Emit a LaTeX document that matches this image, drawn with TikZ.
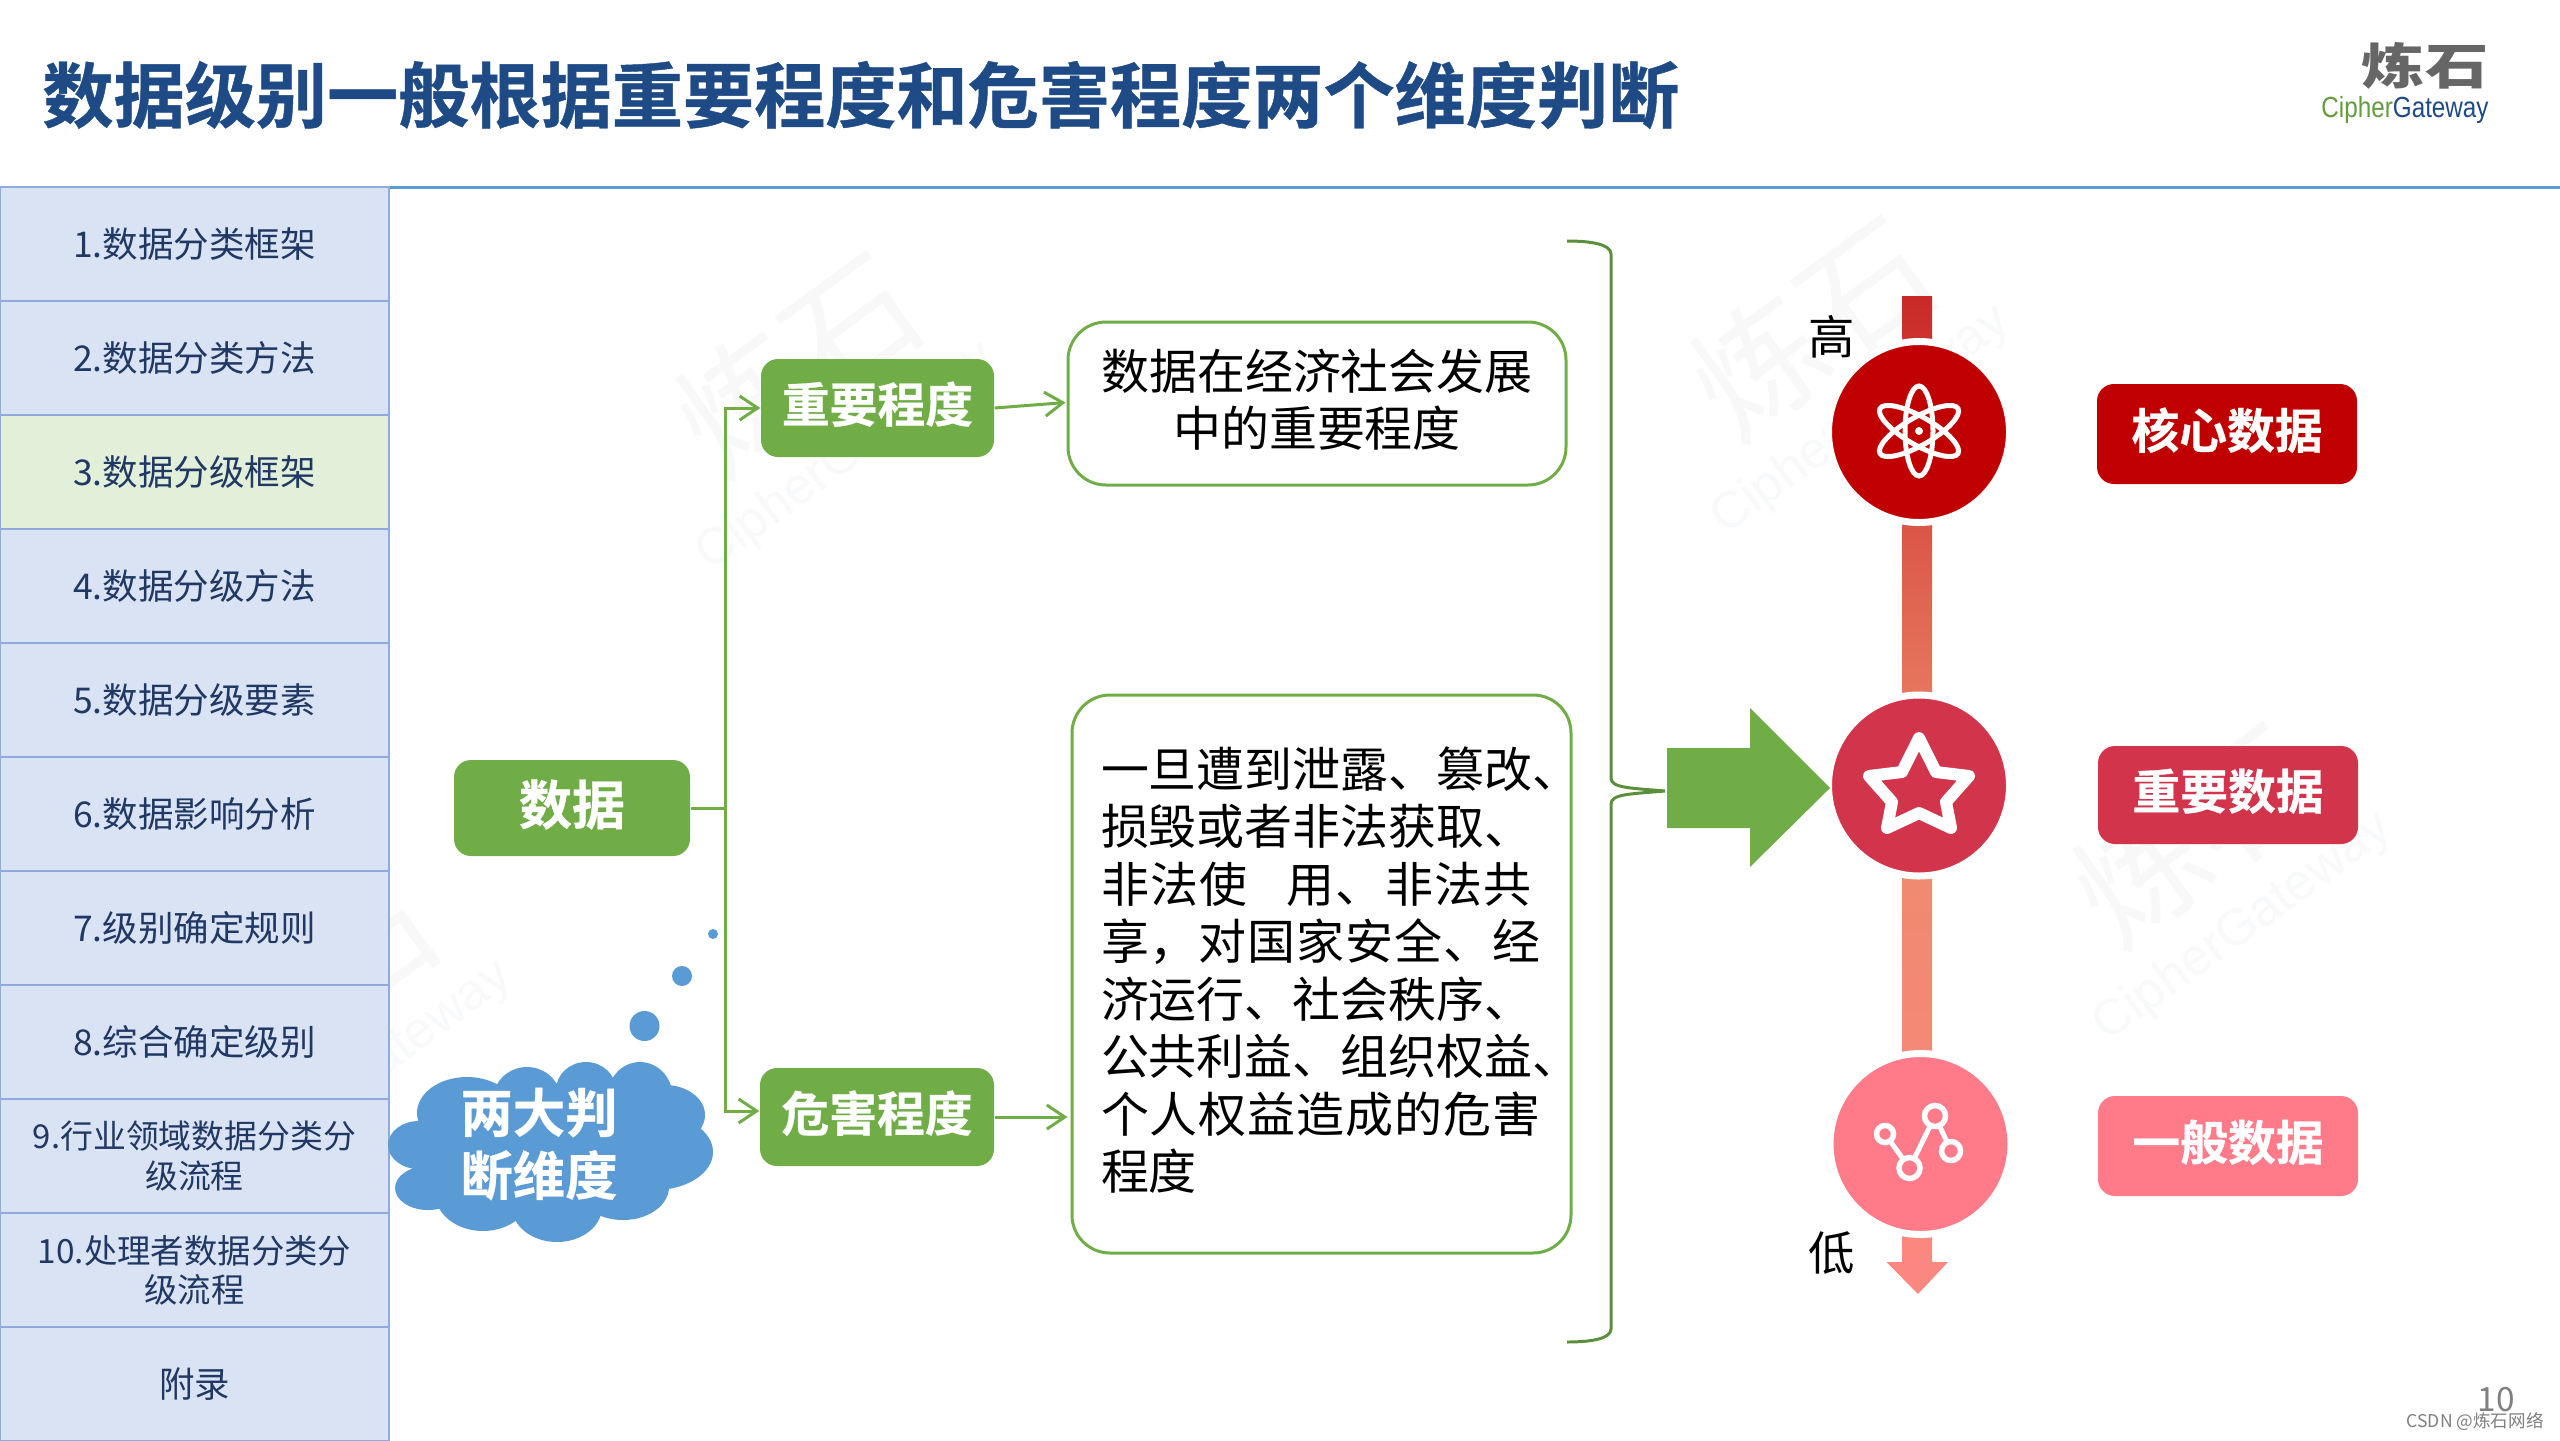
\documentclass[tikz,border=0pt]{standalone}
\usepackage{fontspec}
\usepackage{graphicx}
\usepackage{tikz}
\setmainfont{Noto Sans CJK SC}
\newfontfamily\logofont{Liberation Sans}
\newfontfamily\heavyfont[FakeBold=0.6]{Noto Sans CJK SC Bold}
\usetikzlibrary{calc,arrows.meta}

\definecolor{titleblue}{HTML}{1E4A85}
\definecolor{lineblue}{HTML}{5B9BD5}
\definecolor{menufill}{HTML}{DAE3F3}
\definecolor{menuhigh}{HTML}{E2F0D9}
\definecolor{menuline}{HTML}{8FAADC}
\definecolor{menutext}{HTML}{203864}
\definecolor{leafgreen}{HTML}{70AD47}
\definecolor{darkgreen}{HTML}{5B8F3B}
\definecolor{coreRed}{HTML}{C00000}
\definecolor{mainRed}{HTML}{D1344B}
\definecolor{softRed}{HTML}{FF7B89}
\definecolor{scaleTop}{HTML}{C92A28}
\definecolor{scaleMid}{HTML}{EE8A6C}
\definecolor{scaleEnd}{HTML}{FA8880}
\definecolor{markA}{HTML}{F8F8F8}
\definecolor{markB}{HTML}{F8F9FA}

\tikzset{
    menubox/.style={draw=menuline, line width=0.5pt, fill=menufill, minimum width=3.89cm, minimum height=1.14cm,
        inner sep=0pt, outer sep=0pt, align=center, text=menutext, font=\fontsize{10.1}{11.2}\selectfont},
    greenbox/.style={fill=leafgreen, rounded corners=0.17cm, inner sep=0pt, text=white, align=center, text depth=0.12cm,
        font=\heavyfont\fontsize{13.6}{15}\selectfont},
    levelbox/.style={rounded corners=0.17cm, inner sep=0pt, text=white, minimum width=2.6cm, text depth=0.12cm,
        font=\heavyfont\fontsize{13.6}{15}\selectfont},
    textbox/.style={draw=leafgreen, line width=0.85pt, fill=white, rounded corners=0.38cm, inner sep=0pt,
        font=\fontsize{13.65}{16.35}\selectfont},
    levelnode/.style={circle, draw=white, line width=0.07cm, minimum size=1.81cm, inner sep=0pt},
    link/.style={draw=leafgreen, line width=0.85pt, -{Straight Barb[length=1.8mm,width=2.4mm]}},
    iconline/.style={draw=white, line width=0.05cm},
    mark one/.style={text=markA, rotate=36, font=\fontsize{37}{37}\selectfont},
    mark two/.style={text=markB, rotate=36, font=\fontsize{14.6}{15}\logofont},
}

\begin{document}
\begin{tikzpicture}[scale=1.0]

    \useasboundingbox (0,0) rectangle (25.6,-14.4);
    \fill[white] (0,0) rectangle (25.6,-14.4);

    % --- Watermarks ---
    \node[mark one] (markaa) at (7.97,-3.63) {炼石};
    \node[mark two] (markab) at (8.46,-4.57) {CipherGateway};
    \node[mark one] (markba) at (18.12,-3.27) {炼石};
    \node[mark two] (markbb) at (18.61,-4.21) {CipherGateway};
    \node[mark one] (markca) at (21.94,-8.34) {炼石};
    \node[mark two] (markcb) at (22.43,-9.28) {CipherGateway};
    \node[mark one] (markda) at (3.14,-9.82) {炼石};
    \node[mark two] (markdb) at (3.63,-10.76) {CipherGateway};

    % --- Title and logo ---
    \node[anchor=west, text=titleblue, font=\heavyfont\fontsize{20.25}{22}\selectfont] (title) at (0.30,-0.95) {数据级别一般根据重要程度和危害程度两个维度判断};
    \draw[lineblue, line width=0.03cm] (0,-1.875) -- (25.6,-1.875);
    \node[text=black!60, font=\fontsize{18}{20}\selectfont\bfseries] (logotop) at (24.25,-0.66) {\scalebox{1}[0.78]{炼石}};
    \node[anchor=east, font=\fontsize{6.9}{8}\logofont] (logotext) at (25.01,-1.10) {\scalebox{1}[1.2]{\textcolor{leafgreen!90!black}{Cipher}\textcolor{titleblue}{Gateway}}};

    % --- Menu on the left ---
    \node[menubox] (menua) at (1.945,-2.44) {1.数据分类框架};
    \node[menubox] (menub) at (1.945,-3.58) {2.数据分类方法};
    \node[menubox, fill=menuhigh] (menuc) at (1.945,-4.72) {3.数据分级框架};
    \node[menubox] (menud) at (1.945,-5.86) {4.数据分级方法};
    \node[menubox] (menue) at (1.945,-7.00) {5.数据分级要素};
    \node[menubox] (menuf) at (1.945,-8.14) {6.数据影响分析};
    \node[menubox] (menug) at (1.945,-9.28) {7.级别确定规则};
    \node[menubox] (menuh) at (1.945,-10.42) {8.综合确定级别};
    \node[menubox, font=\fontsize{9.35}{11.2}\selectfont] (menui) at (1.945,-11.56) {9.行业领域数据分类分\\级流程};
    \node[menubox, font=\fontsize{9.5}{11.2}\selectfont] (menuj) at (1.945,-12.70) {10.处理者数据分类分\\级流程};
    \node[menubox] (menuk) at (1.945,-13.84) {附录};

    % --- Green boxes ---
    \node[greenbox, minimum width=2.36cm, minimum height=0.96cm, font=\heavyfont\fontsize{15.1}{16}\selectfont] (data) at (5.72,-8.08) {数据};
    \node[greenbox, minimum width=2.33cm, minimum height=0.98cm] (weight) at (8.775,-4.08) {重要程度};
    \node[greenbox, minimum width=2.34cm, minimum height=0.98cm] (harm) at (8.77,-11.17) {危害程度};

    % --- Text boxes ---
    \node[textbox, minimum width=4.98cm, minimum height=1.63cm, text depth=0.12cm, align=center] (weighttext) at (13.17,-4.035) {数据在经济社会发展\\中的重要程度};
    \node[textbox, minimum width=4.99cm, minimum height=5.58cm, text width=4.41cm, text depth=4.14cm, align=left] (harmtext) at (13.215,-9.74) {一旦遭到泄露、篡改、\\损毁或者非法获取、\\{\addfontfeature{LetterSpace=3}非法使\hspace{0.8em}用、非法共}\\{\addfontfeature{LetterSpace=2}享，对国家安全、经}\\济运行、社会秩序、\\公共利益、组织权益、\\{\addfontfeature{LetterSpace=2}个人权益造成的危害}\\程度};

    % --- Connectors ---
    \coordinate (trunk) at (7.25,-8.08);
    \draw[leafgreen, line width=0.85pt] (data.east) -- (trunk);
    \draw[link] (trunk) |- (weight.west);
    \draw[link] (trunk) |- ($(harm.west)+(0,0.06)$);
    \draw[link] (weight.east) -- ($(weighttext.west)+(-0.01,0.01)$);
    \draw[link] (harm.east) -- ($(harm.east -| harmtext.west)+(-0.03,0)$);

    % --- Thought cloud ---
    \fill[lineblue] (7.13,-9.34) circle (0.05);
    \fill[lineblue] (6.82,-9.76) circle (0.10);
    \fill[lineblue] (6.445,-10.26) circle (0.15);
    \fill[lineblue] (5.55,-11.50) ellipse (1.30 and 0.60)
        (4.67,-11.13) ellipse (0.50 and 0.36)
        (5.27,-11.00) ellipse (0.34 and 0.33)
        (5.86,-10.90) ellipse (0.30 and 0.28)
        (6.40,-10.98) ellipse (0.33 and 0.36)
        (6.65,-11.15) ellipse (0.40 and 0.30)
        (6.55,-11.52) ellipse (0.58 and 0.38)
        (6.23,-11.87) ellipse (0.46 and 0.33)
        (5.57,-12.07) ellipse (0.45 and 0.35)
        (4.83,-11.93) ellipse (0.48 and 0.38)
        (4.28,-11.88) ellipse (0.33 and 0.22)
        (4.19,-11.45) ellipse (0.31 and 0.24);
    \node[text=white, align=center, font=\heavyfont\fontsize{14.9}{17.9}\selectfont] (cloudtext) at (5.39,-11.44) {两大判\\断维度};

    % --- Brace ---
    \draw[darkgreen, line width=0.85pt] (15.67,-2.41) .. controls (15.90,-2.41) and (16.11,-2.44) .. (16.11,-2.54) -- (16.11,-7.78)
        .. controls (16.11,-7.88) and (16.30,-7.88) .. (16.65,-7.91) .. controls (16.30,-7.94) and (16.11,-7.94) .. (16.11,-8.04)
        -- (16.11,-13.29) .. controls (16.11,-13.39) and (15.90,-13.42) .. (15.67,-13.42);

    % --- Scale from high to low ---
    \fill[scaleEnd] (19.02,-12.60) -- (19.32,-12.60) -- (19.32,-12.62) -- (19.48,-12.62) -- (19.18,-12.94) -- (18.865,-12.62) -- (19.02,-12.62) -- cycle;
    \shade[top color=scaleTop, bottom color=scaleMid] (19.02,-2.96) rectangle (19.32,-7.95);
    \shade[top color=scaleMid, bottom color=scaleEnd] (19.02,-7.95) rectangle (19.32,-12.62);
    \node[levelnode, fill=coreRed] (high) at (19.19,-4.32) {};
    \node[levelnode, fill=mainRed] (mid) at (19.19,-7.855) {};
    \node[levelnode, fill=softRed] (low) at (19.205,-11.44) {};
    \node[font=\fontsize{13.2}{14}\selectfont] (hightext) at (18.32,-3.37) {高};
    \node[font=\fontsize{13.2}{14}\selectfont] (lowtext) at (18.32,-12.53) {低};

    % --- Big arrow ---
    \fill[leafgreen] (16.67,-7.48) -- (17.50,-7.48) -- (17.50,-7.08) -- (18.30,-7.88) -- (17.50,-8.67) -- (17.50,-8.28) -- (16.67,-8.28) -- cycle;

    % --- Atom icon ---
    \draw[iconline] (19.19,-4.31) ellipse (0.14 and 0.45);
    \draw[iconline, rotate around={60:(19.19,-4.31)}] (19.19,-4.31) ellipse (0.14 and 0.45);
    \draw[iconline, rotate around={120:(19.19,-4.31)}] (19.19,-4.31) ellipse (0.14 and 0.45);
    \fill[white] (19.19,-4.31) circle (0.04);

    % --- Star icon ---
    \draw[draw=white, line width=0.12cm, line join=round] (19.19,-7.38) -- (19.36,-7.72) -- (19.69,-7.76) -- (19.46,-8.02) -- (19.51,-8.28) -- (19.19,-8.13) -- (18.87,-8.28) -- (18.92,-8.02) -- (18.69,-7.76) -- (19.02,-7.72) -- cycle;

    % --- Graph icon ---
    \draw[iconline] (18.85,-11.34) -- (19.095,-11.68) -- (19.35,-11.16) -- (19.51,-11.51);
    \draw[iconline, fill=softRed, line width=0.055cm] (18.85,-11.34) circle (0.085);
    \draw[iconline, fill=softRed, line width=0.055cm] (19.095,-11.68) circle (0.105);
    \draw[iconline, fill=softRed, line width=0.055cm] (19.35,-11.16) circle (0.105);
    \draw[iconline, fill=softRed, line width=0.055cm] (19.51,-11.51) circle (0.095);

    % --- Level labels ---
    \node[levelbox, fill=coreRed, minimum height=1.0cm] (coredata) at (22.27,-4.34) {核心数据};
    \node[levelbox, fill=mainRed, minimum height=0.98cm] (maindata) at (22.28,-7.95) {重要数据};
    \node[levelbox, fill=softRed, minimum height=1.0cm] (softdata) at (22.28,-11.46) {一般数据};

    % --- Page number ---
    \node[text=black!50, font=\fontsize{9.5}{10}\selectfont] (pagenum) at (24.96,-14.0) {10};
    \node[anchor=east, text=black!50, font=\fontsize{5}{6}\selectfont] (source) at (25.56,-14.22) {CSDN @炼石网络};

\end{tikzpicture}
\end{document}
